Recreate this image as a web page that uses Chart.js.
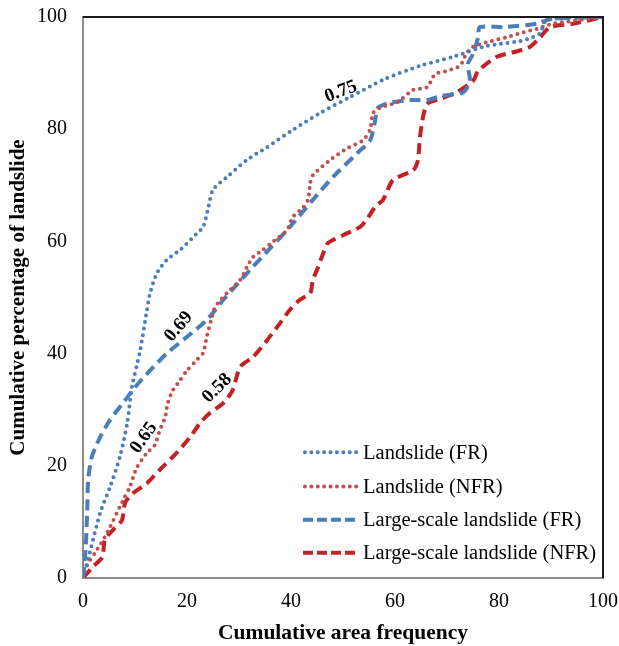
<!DOCTYPE html>
<html>
<head>
<meta charset="utf-8">
<script src="https://cdn.jsdelivr.net/npm/chart.js@4/dist/chart.umd.min.js"></script>
<style>
  html, body { margin: 0; padding: 0; background: #fff; }
  #wrap { width: 619px; height: 646px; position: relative; }
</style>
</head>
<body>
<div id="wrap"><canvas id="c" width="619" height="646"></canvas></div>
<script>
// ---- Data ----
const seriesNames = ['Landslide (FR)', 'Landslide (NFR)', 'Large-scale landslide (FR)', 'Large-scale landslide (NFR)'];

const lsFR_x = [0, 1.3, 3.3, 5.2, 7.1, 8.5, 9.4, 11, 12.3, 12.9, 14.2, 16.1, 18.7, 21.2, 23.1, 24, 25, 27.7, 31.5, 35.4, 40.4, 45.6, 51.3, 57.7, 64.8, 71.2, 77, 80.2, 84, 86.5, 87.9, 89.2, 100];
const lsFR_y = [0, 4.5, 11.6, 16.2, 21.6, 27.6, 34, 40.6, 47.8, 50.8, 54.3, 56.7, 58.5, 60.8, 62.6, 65.6, 69.2, 71.5, 74.5, 76.8, 79.9, 82.9, 85.7, 88.8, 91.3, 92.9, 94.7, 95.2, 95.7, 96.4, 97.1, 99.5, 100];

const lsNFR_x = [0, 0.8, 2.3, 3.9, 5.2, 7.1, 8, 9, 10.3, 12.3, 13.8, 14.8, 15.8, 16.3, 17.3, 18.7, 20, 21.9, 23.1, 23.8, 24.8, 25.4, 27.7, 30.2, 31.5, 32.7, 34.6, 36.6, 39.2, 40.4, 42.3, 43.3, 43.7, 44.2, 47.5, 50.8, 53.8, 55.2, 55.8, 57.1, 60.4, 63.5, 66.2, 67.7, 70, 72.5, 73.8, 75, 77.7, 81.5, 84, 87.3, 90.4, 100];
const lsNFR_y = [0, 2.3, 4.5, 6.8, 9.1, 12.7, 14.4, 16.2, 19.6, 22.3, 23.7, 26.4, 28.7, 31.2, 33.5, 35.3, 37, 38.9, 40.1, 43, 46.5, 48.3, 50.8, 53.1, 55.4, 57.2, 58.5, 60, 62, 64.4, 66, 67.5, 70.4, 71.8, 74.5, 76.6, 78, 79.9, 82.9, 83.8, 84.8, 87, 87.5, 89.8, 90.4, 91.3, 93.6, 94.7, 95.5, 96.4, 97.1, 97.9, 98.8, 100];

const lgFR_x = [0, 0.5, 0.8, 1, 1.7, 3.3, 5.2, 7.7, 10, 12.9, 16.2, 20, 23.8, 27, 32.1, 36, 39.8, 44.2, 48.1, 52.7, 55.2, 56.2, 56.7, 59, 62.9, 66.2, 68.7, 73.1, 74.4, 74, 75, 76, 76.3, 80.8, 87.3, 89.8, 100];
const lgFR_y = [0, 5, 11.6, 17.5, 21.6, 25.1, 28.2, 31.2, 34, 37, 40.1, 43, 46, 49.6, 54.9, 58.8, 62.6, 67.4, 71.5, 75.7, 78, 81.6, 83.8, 84.7, 85.2, 85.2, 85.9, 86.6, 88.6, 91.6, 93.4, 96.4, 98.2, 98.2, 98.8, 99.6, 100];

const lgNFR_x = [0, 1.9, 3.7, 4.2, 5.8, 7.5, 8.1, 9.6, 12.3, 14.8, 18, 20.6, 22.5, 24.4, 27, 28.8, 30.2, 32.7, 35.4, 37.3, 39.8, 41.7, 43.7, 44.2, 45.2, 46.2, 47.1, 50, 53.3, 54.8, 56.2, 57.7, 59.6, 63.5, 64.4, 64.8, 65.4, 66.2, 68.7, 71.9, 75, 76, 79.6, 83.5, 86, 87.9, 89.8, 94.2, 100];
const lgNFR_y = [0, 2, 3.7, 6.8, 8.6, 10.3, 13.4, 15.1, 16.9, 19.3, 22.3, 25.1, 27.6, 29.4, 31.2, 33.5, 37.6, 39.4, 42.4, 44.7, 47.8, 49.6, 50.8, 53.1, 55.4, 57.9, 59.7, 61.1, 62.6, 64.2, 66.2, 67.4, 70.9, 72.7, 74.5, 78.6, 82.2, 84.5, 85.4, 86.6, 88.6, 90.4, 92.9, 93.9, 94.7, 96.4, 98.2, 98.8, 100];

const aucLabels = ['0.75', '0.65', '0.69', '0.58'];
const xTicks = [0, 20, 40, 60, 80, 100];
const yTicks = [0, 20, 40, 60, 80, 100];

// ---- Build datasets ----
function pts(xs, ys) { return xs.map((x, i) => ({ x: x, y: ys[i] })); }

const styles = [
  { color: '#4A7EBB', dash: [0, 6.6], width: 4, cap: 'round' },
  { color: '#C0504D', dash: [0, 6.6], width: 4, cap: 'round' },
  { color: '#4A7EBB', dash: [11, 6], width: 4, cap: 'butt' },
  { color: '#C32126', dash: [11, 6], width: 4, cap: 'butt' }
];
const rawData = [pts(lsFR_x, lsFR_y), pts(lsNFR_x, lsNFR_y), pts(lgFR_x, lgFR_y), pts(lgNFR_x, lgNFR_y)];

const datasets = rawData.map((d, i) => ({
  label: seriesNames[i],
  data: d,
  showLine: true,
  borderColor: styles[i].color,
  backgroundColor: styles[i].color,
  borderWidth: styles[i].width,
  borderDash: styles[i].dash,
  borderCapStyle: styles[i].cap,
  pointRadius: 0,
  pointHoverRadius: 0,
  tension: 0.25,
  fill: false
}));

// annotation placement (data coordinates) and rotation
const annotPlacement = [
  { x: 49.6, y: 86.7, angle: -21 },
  { x: 11.7, y: 25.0, angle: -55 },
  { x: 18.4, y: 44.8, angle: -50 },
  { x: 25.8, y: 33.8, angle: -45 }
];

const serif = '"Liberation Serif", "Times New Roman", serif';

const decorPlugin = {
  id: 'decor',
  afterDatasetsDraw(chart) {
    const ctx = chart.ctx;
    const a = chart.chartArea;
    const xs = chart.scales.x, ys = chart.scales.y;
    ctx.save();
    // top & right frame
    ctx.strokeStyle = '#1a1a1a';
    ctx.lineWidth = 2;
    ctx.setLineDash([]);
    ctx.beginPath();
    ctx.moveTo(a.left, a.top);
    ctx.lineTo(a.right, a.top);
    ctx.lineTo(a.right, a.bottom);
    ctx.stroke();

    // AUC annotations
    ctx.fillStyle = '#000';
    ctx.font = 'bold 19px ' + serif;
    ctx.textAlign = 'center';
    ctx.textBaseline = 'middle';
    aucLabels.forEach((t, i) => {
      const p = annotPlacement[i];
      ctx.save();
      ctx.translate(xs.getPixelForValue(p.x), ys.getPixelForValue(p.y));
      ctx.rotate(p.angle * Math.PI / 180);
      ctx.fillText(t, 0, 0);
      ctx.restore();
    });

    // legend inside plot
    const lx0 = xs.getPixelForValue(42.3), lx1 = xs.getPixelForValue(52.9);
    ctx.font = '20.5px ' + serif;
    ctx.textAlign = 'left';
    datasets.forEach((ds, i) => {
      const y = ys.getPixelForValue([22.4, 16.3, 10.4, 4.5][i]);
      ctx.strokeStyle = ds.borderColor;
      ctx.lineWidth = ds.borderWidth;
      ctx.lineCap = ds.borderCapStyle;
      ctx.setLineDash(i < 2 ? [0, 6.4] : [10, 4]);
      ctx.beginPath();
      ctx.moveTo(lx0 + (i < 2 ? 2 : 0), y);
      ctx.lineTo(lx1, y);
      ctx.stroke();
      ctx.fillStyle = '#000';
      ctx.fillText(ds.label, lx1 + 5, y + 1);
    });
    ctx.restore();
  }
};

new Chart(document.getElementById('c'), {
  type: 'scatter',
  data: { datasets: datasets },
  options: {
    responsive: false,
    animation: false,
    events: [],
    layout: { padding: { left: 0, right: 16, top: 17, bottom: 0 } },
    plugins: { legend: { display: false }, tooltip: { enabled: false } },
    scales: {
      x: {
        type: 'linear', min: 0, max: 100,
        afterBuildTicks: s => { s.ticks = xTicks.map(v => ({ value: v })); },
        afterFit: s => { s.height = 68; s.paddingLeft = 0; s.paddingRight = 0; },
        grid: { display: false, drawTicks: false },
        border: { display: true, color: '#8c8c8c', width: 2 },
        ticks: { color: '#000', font: { family: serif, size: 20 }, padding: 12, maxRotation: 0 },
        title: { display: true, text: 'Cumulative area frequency', color: '#000', font: { family: serif, size: 21.5, weight: 'bold' }, padding: { top: 4, bottom: 0 } }
      },
      y: {
        type: 'linear', min: 0, max: 100,
        afterBuildTicks: s => { s.ticks = yTicks.map(v => ({ value: v })); },
        afterFit: s => { s.width = 83; s.paddingTop = 0; s.paddingBottom = 0; },
        grid: { display: false, drawTicks: false },
        border: { display: true, color: '#8c8c8c', width: 2 },
        ticks: { color: '#000', font: { family: serif, size: 20 }, padding: 16 },
        title: { display: true, text: 'Cumulative percentage of landslide', color: '#000', font: { family: serif, size: 21, weight: 'bold' }, padding: { top: 6, bottom: 6 } }
      }
    }
  },
  plugins: [decorPlugin]
});
</script>
</body>
</html>
